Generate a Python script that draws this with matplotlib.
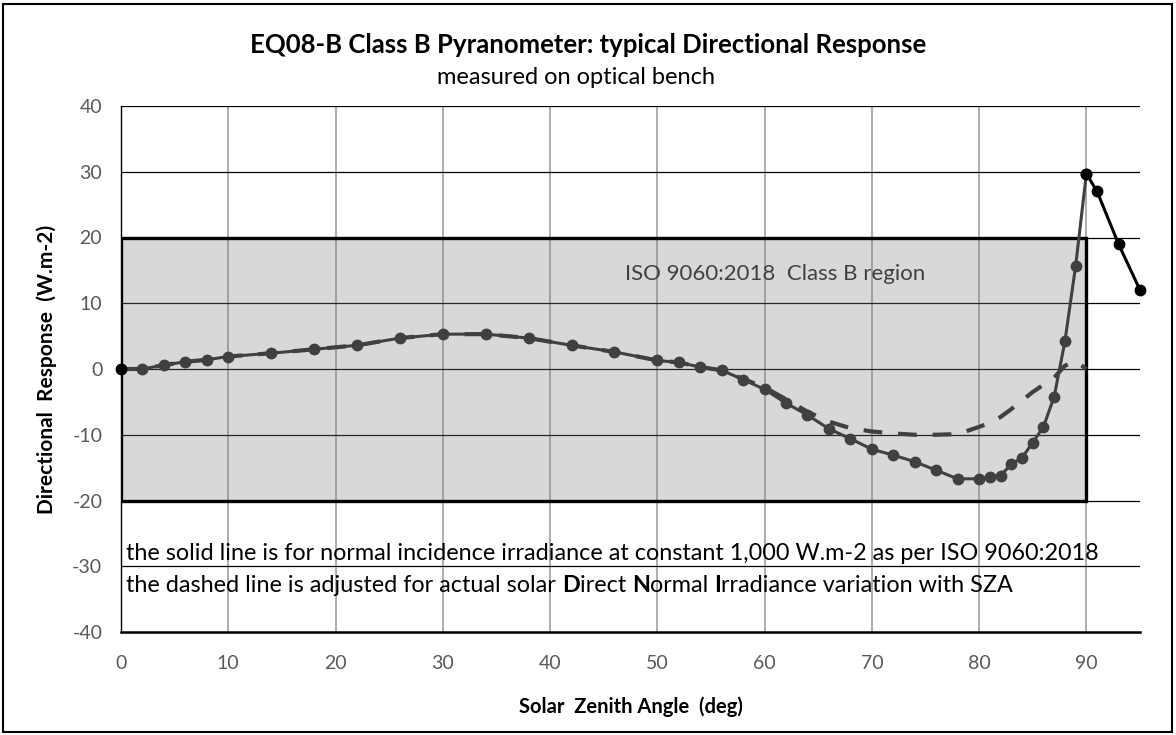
import matplotlib
matplotlib.use("Agg")
import matplotlib.pyplot as plt
from matplotlib.patches import Rectangle
import numpy as np

plt.rcParams['font.family'] = ['Lato', 'DejaVu Sans']
plt.rcParams['axes.unicode_minus'] = False

# ---- data ----
sza = [0, 2, 4, 6, 8, 10, 14, 18, 22, 26, 30, 34, 38, 42, 46, 50, 52, 54, 56, 58,
       60, 62, 64, 66, 68, 70, 72, 74, 76, 78, 80, 81, 82, 83, 84, 85, 86, 87, 88, 89, 90]
solid_resp = [0.0, 0.0, 0.6, 1.1, 1.4, 1.9, 2.4, 3.0, 3.6, 4.7, 5.3, 5.3, 4.7, 3.6, 2.6,
              1.3, 1.0, 0.3, -0.2, -1.6, -3.1, -5.2, -7.0, -9.1, -10.6, -12.2, -13.1,
              -14.1, -15.4, -16.7, -16.7, -16.4, -16.2, -14.5, -13.5, -11.2, -8.8, -4.2,
              4.2, 15.7, 29.7]
dashed_resp = [0.0, 0.0, 0.6, 1.1, 1.4, 1.9, 2.4, 3.0, 3.6, 4.7, 5.3, 5.3, 4.7, 3.6, 2.6,
               1.3, 1.0, 0.3, -0.2, -1.5, -2.8, -4.6, -6.5, -8.0, -9.0, -9.5, -9.8,
               -10.0, -10.0, -9.9, -8.8, -8.2, -7.3, -6.1, -4.8, -3.5, -2.4, -1.3,
               0.5, 1.2, 0.0]
beyond_sza = [90, 91, 93, 95]
beyond_resp = [29.7, 27.0, 19.0, 12.0]
origin_sza = [0]
origin_resp = [0.0]

class_b_sza = (0, 90)
class_b_limits = (-20, 20)

xticks = [0, 10, 20, 30, 40, 50, 60, 70, 80, 90]
yticks = [-40, -30, -20, -10, 0, 10, 20, 30, 40]

title = "EQ08-B Class B Pyranometer: typical Directional Response"
subtitle = "measured on optical bench"
xlabel = "Solar  Zenith Angle  (deg)"
ylabel = "Directional  Response  (W.m-2)"
region_label = "ISO 9060:2018  Class B region"
note1 = "the solid line is for normal incidence irradiance at constant 1,000 W.m-2 as per ISO 9060:2018"
note2_parts = [("the dashed line is adjusted for actual solar ", "normal"), ("D", "bold"),
               ("irect ", "normal"), ("N", "bold"), ("ormal ", "normal"), ("I", "bold"),
               ("rradiance variation with SZA", "normal")]

# ---- figure ----
W, H = 1176, 735
fig = plt.figure(figsize=(W / 100, H / 100), dpi=100)
ax = fig.add_axes([121 / W, (H - 632) / H, (1140 - 121) / W, (632 - 106) / H])

ax.set_xlim(0, 95)
ax.set_ylim(-40, 40)
ax.set_xticks(xticks)
ax.set_yticks(yticks)

# gridlines
for x in xticks[1:]:
    ax.axvline(x, color='#a0a0a0', lw=1.2, zorder=1)
for y in yticks[1:]:
    ax.axhline(y, color='black', lw=0.9, zorder=1)

# class B region box (semi-transparent grey over gridlines)
ax.add_patch(Rectangle((class_b_sza[0], class_b_limits[0]),
                       class_b_sza[1] - class_b_sza[0],
                       class_b_limits[1] - class_b_limits[0],
                       facecolor=(0.5, 0.5, 0.5, 0.3), edgecolor='none', zorder=2))
ax.add_patch(Rectangle((class_b_sza[0], class_b_limits[0]),
                       class_b_sza[1] - class_b_sza[0],
                       class_b_limits[1] - class_b_limits[0],
                       facecolor='none', edgecolor='black', lw=2.4, zorder=3))

grey = '#404040'
ax.plot(sza, dashed_resp, color=grey, lw=3.0, dashes=(4.5, 3.8), zorder=4,
        solid_capstyle='butt', dash_capstyle='butt')
ax.plot(sza, solid_resp, color=grey, lw=2.2, marker='o', markersize=7.5, zorder=5)
ax.plot(beyond_sza, beyond_resp, color='black', lw=2.2, marker='o', markersize=7.5,
        zorder=6, clip_on=False)
ax.plot(origin_sza, origin_resp, color='black', lw=0, marker='o', markersize=7.5,
        zorder=6, clip_on=False)

# spines
for s in ['top', 'right']:
    ax.spines[s].set_visible(False)
ax.spines['left'].set_linewidth(1.0)
ax.spines['bottom'].set_linewidth(1.8)
ax.spines['left'].set_zorder(7)
ax.spines['bottom'].set_zorder(7)

ax.tick_params(axis='both', length=0, labelsize=14, colors='#595959')
ax.tick_params(axis='x', pad=16.5)
ax.tick_params(axis='y', pad=13.5)

ax.set_xlabel(xlabel, fontsize=14.5, fontweight='bold', color='black')
ax.xaxis.set_label_coords(0.5, -(696 - 632) / (632 - 106))
ax.set_ylabel(ylabel, fontsize=15, fontweight='bold', color='black')
ax.yaxis.set_label_coords(-(121 - 57) / (1140 - 121), 0.5)

# titles
fig.text(588 / W, 1 - 45 / H, title, ha='center', va='center', fontsize=18.5,
         fontweight='bold', color='black')
fig.text(576 / W, 1 - 78 / H, subtitle, ha='center', va='center', fontsize=17,
         color='black')

ax.text(47, 14.5, region_label, fontsize=16, color='#404040', va='center', ha='left',
        zorder=8)

note_fs = 16.8
ax.text(0.5, -28.1, note1, fontsize=note_fs, color='black', va='center', ha='left', zorder=8)
prev = None
for txt, wt in note2_parts:
    if prev is None:
        prev = ax.text(0.5, -32.9, txt, fontsize=note_fs, color='black', va='center',
                       ha='left', fontweight=wt, zorder=8)
    else:
        prev = ax.annotate(txt, xy=(1, 0), xycoords=prev, va='bottom', ha='left',
                           fontsize=note_fs, color='black', fontweight=wt, zorder=8)

# figure border
fig.add_artist(Rectangle((3 / W, 3 / H), 1 - 7 / W, 1 - 7 / H, transform=fig.transFigure,
                         facecolor='none', edgecolor='black', lw=1.5))

fig.savefig("out.png", dpi=100)
